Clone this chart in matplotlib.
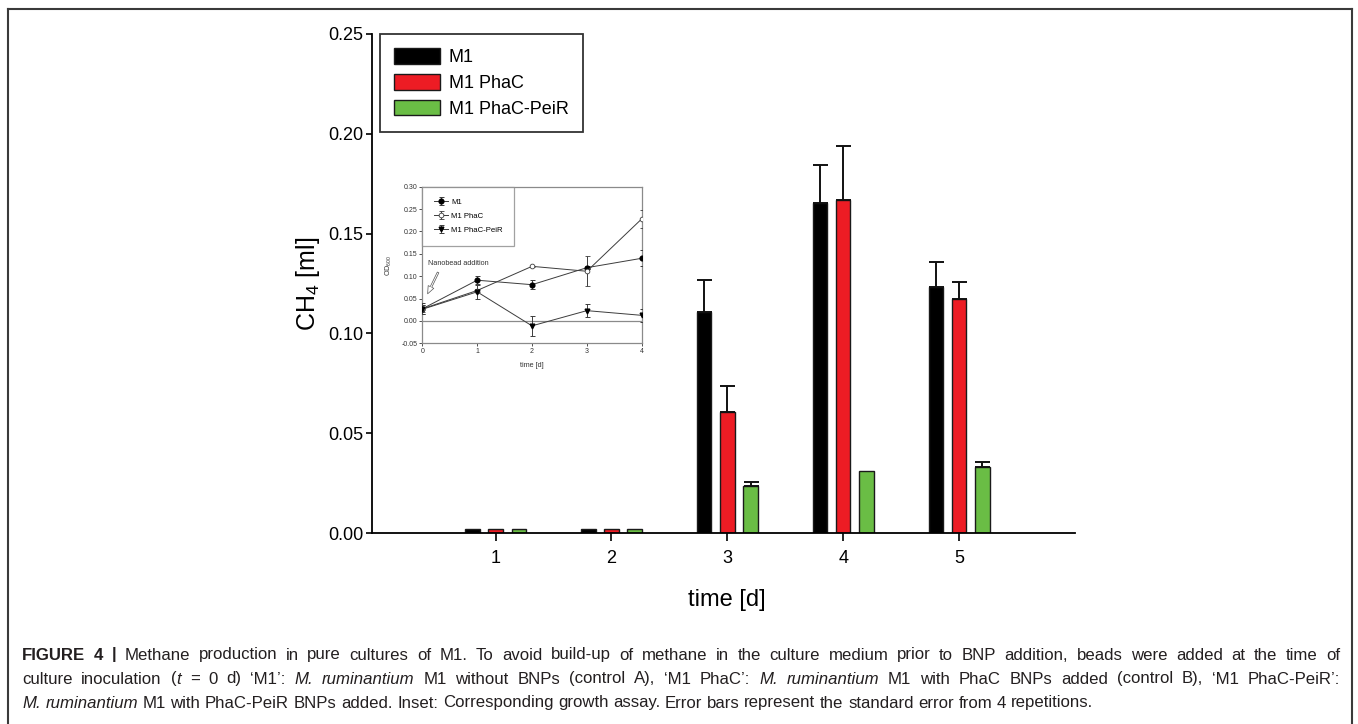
"""
Methane production bar chart with growth-assay inset (Figure 4 recreation)
"""

import numpy as np
import matplotlib
matplotlib.use("Agg")
import matplotlib.pyplot as plt
from matplotlib import font_manager
from matplotlib.lines import Line2D

# ---- main chart data (CH4 in ml) ----
days = [1, 2, 3, 4, 5]
series = ["M1", "M1 PhaC", "M1 PhaC-PeiR"]
ch4_m1 = [0.0022, 0.0022, 0.1107, 0.1655, 0.1230]
ch4_m1_err = [0.0, 0.0, 0.0163, 0.0190, 0.0130]
ch4_phac = [0.0022, 0.0022, 0.0607, 0.1670, 0.1170]
ch4_phac_err = [0.0, 0.0, 0.0129, 0.0270, 0.0088]
ch4_peir = [0.0022, 0.0022, 0.0233, 0.0310, 0.0333]
ch4_peir_err = [0.0, 0.0, 0.0025, 0.0, 0.0025]
y_ticks = [0.00, 0.05, 0.10, 0.15, 0.20, 0.25]

# ---- inset data (OD600) ----
inset_days = [0, 1, 2, 3, 4]
od_m1 = [0.027, 0.091, 0.081, 0.119, 0.140]
od_m1_err = [0.012, 0.009, 0.010, 0.004, 0.018]
od_phac = [0.027, 0.068, 0.122, 0.111, 0.228]
od_phac_err = [0.008, 0.004, 0.001, 0.033, 0.021]
od_peir = [0.026, 0.065, -0.011, 0.023, 0.0125]
od_peir_err = [0.010, 0.016, 0.022, 0.015, 0.014]
inset_y_ticks = [-0.05, 0.00, 0.05, 0.10, 0.15, 0.20, 0.25, 0.30]

caption_lines = [
    "^FIGURE 4 |^ Methane production in pure cultures of M1. To avoid build-up of methane in the "
    "culture medium prior to BNP addition, beads were added at the time of",
    "culture inoculation (_t_ = 0 d) \u2018M1\u2019: _M. ruminantium_ M1 without BNPs (control A), "
    "\u2018M1 PhaC\u2019: _M. ruminantium_ M1 with PhaC BNPs added (control B), \u2018M1 PhaC-PeiR\u2019:",
    "_M. ruminantium_ M1 with PhaC-PeiR BNPs added. Inset: Corresponding growth assay. "
    "Error bars represent the standard error from 4 repetitions.",
]

W, H = 1358, 724
BAR_COLORS = ["#000000", "#ED1C24", "#6ABD45"]
FONT = "Liberation Sans"
installed = {f.name for f in font_manager.fontManager.ttflist}
CAPTION_FONT = "Liberation Sans Narrow" if "Liberation Sans Narrow" in installed else FONT

plt.rcParams["font.family"] = [FONT, "DejaVu Sans"]
plt.rcParams["mathtext.fontset"] = "custom"
plt.rcParams["mathtext.rm"] = FONT
plt.rcParams["mathtext.it"] = FONT + ":italic"


def px_box(left, top, right, bottom):
    # pixel box (from top-left) -> figure fraction rect
    return [left / W, 1 - bottom / H, (right - left) / W, (bottom - top) / H]


def parse_words(line):
    words = []
    italic = False
    bold = False
    for raw in line.split(" "):
        parts = []
        buf = ""
        for ch in raw:
            if ch in "_^":
                if buf:
                    parts.append((buf, italic, bold))
                    buf = ""
                if ch == "_":
                    italic = not italic
                else:
                    bold = not bold
            else:
                buf += ch
        if buf:
            parts.append((buf, italic, bold))
        if parts:
            words.append(parts)
    return words


def draw_caption(fig, lines, x0, x1, ys, size):
    renderer = fig.canvas.get_renderer()

    def make(text, italic, bold, x, y):
        return fig.text(x / W, 1 - y / H, text, fontsize=size, family=[CAPTION_FONT, "DejaVu Sans"],
                        style="italic" if italic else "normal",
                        weight="bold" if bold else "normal",
                        color="#231F20", ha="left", va="center")

    probe_a = make("a a", False, False, 0, 0)
    probe_b = make("aa", False, False, 0, 0)
    space = probe_a.get_window_extent(renderer).width - probe_b.get_window_extent(renderer).width
    probe_a.remove()
    probe_b.remove()

    for i, (line, y) in enumerate(zip(lines, ys)):
        words = parse_words(line)
        texts = []
        widths = []
        for parts in words:
            wt = []
            ww = 0
            for text, italic, bold in parts:
                t = make(text, italic, bold, 0, y)
                w = t.get_window_extent(renderer).width
                wt.append((t, w))
                ww += w
            texts.append(wt)
            widths.append(ww)
        if i < len(lines) - 1:
            gap = (x1 - x0 - sum(widths)) / (len(words) - 1)
        else:
            gap = space
        x = x0
        for wt, ww in zip(texts, widths):
            xx = x
            for t, w in wt:
                t.set_x(xx / W)
                xx += w
            x += ww + gap


fig = plt.figure(figsize=(W / 100, H / 100), dpi=100)

# outer frame (left, top, right edges)
frame_kw = dict(color="#3a3a3a", linewidth=1.5, transform=fig.transFigure)
fig.add_artist(Line2D([8 / W, 8 / W], [0, 1 - 9 / H], **frame_kw))
fig.add_artist(Line2D([8 / W, 1352 / W], [1 - 9 / H, 1 - 9 / H], **frame_kw))
fig.add_artist(Line2D([1352 / W, 1352 / W], [0, 1 - 9 / H], **frame_kw))

# ---- main axes ----
ax = fig.add_axes(px_box(372, 34, 1075, 533))
x = np.array(days, dtype=float)
offsets = [-0.2, 0.0, 0.2]
values = [ch4_m1, ch4_phac, ch4_peir]
errors = [ch4_m1_err, ch4_phac_err, ch4_peir_err]
for off, vals, errs, color, label in zip(offsets, values, errors, BAR_COLORS, series):
    ax.bar(x + off, vals, width=0.125, color=color, edgecolor="#1a1a1a", linewidth=1.0,
           label=label, zorder=2)
    vals = np.array(vals)
    errs = np.array(errs)
    keep = errs > 0
    ax.errorbar(x[keep] + off, vals[keep], yerr=[np.zeros(keep.sum()), errs[keep]],
                fmt="none", ecolor="#111111", elinewidth=1.4, capsize=5.4, capthick=1.4, zorder=3)

ax.set_xlim(-0.0665, 6.0)
ax.set_ylim(0, 0.25)
ax.set_xticks(days)
ax.set_yticks(y_ticks)
ax.set_yticklabels([f"{v:.2f}" for v in y_ticks])
for side in ["top", "right"]:
    ax.spines[side].set_visible(False)
for side in ["left", "bottom"]:
    ax.spines[side].set_linewidth(1.3)
ax.tick_params(axis="y", direction="out", length=4, width=1.2, pad=2, labelsize=13)
ax.tick_params(axis="x", direction="out", length=6, width=1.2, pad=6.5, labelsize=13)
ax.set_ylabel("CH$_4$ [ml]", fontsize=18)
ax.yaxis.set_label_coords(-0.071, 0.5)
ax.set_xlabel("time [d]", fontsize=17)
ax.xaxis.set_label_coords(0.505, -0.112)

leg = ax.legend(loc="upper left", bbox_to_anchor=(8 / 703, 1.0), borderaxespad=0,
                fontsize=13, frameon=True, fancybox=False, handlelength=2.5,
                handleheight=0.95, handletextpad=0.5, labelspacing=0.42, borderpad=0.8)
leg.get_frame().set_edgecolor("#000000")
leg.get_frame().set_linewidth(1.3)

# ---- inset ----
axi = fig.add_axes(px_box(422.3, 186.7, 641.7, 343.3))
axi.set_xlim(0, 4)
axi.set_ylim(-0.05, 0.30)
gray = "#8a8a8a"
for side in axi.spines.values():
    side.set_color(gray)
    side.set_linewidth(0.9)
axi.axhline(0, color=gray, linewidth=0.9, zorder=1)

line_kw = dict(color="#3c3c3c", linewidth=0.7, elinewidth=0.7, ecolor="#3c3c3c",
               capsize=1.8, capthick=0.7, markersize=3.4, zorder=3)
axi.errorbar(inset_days, od_m1, yerr=od_m1_err, marker="o", mfc="black", mec="black",
             label="M1", **line_kw)
axi.errorbar(inset_days, od_phac, yerr=od_phac_err, marker="o", mfc="white", mec="#3c3c3c",
             mew=0.6, label="M1 PhaC", **line_kw)
axi.errorbar(inset_days, od_peir, yerr=od_peir_err, marker="v", mfc="black", mec="black",
             label="M1 PhaC-PeiR", **line_kw)

axi.set_xticks(inset_days)
axi.set_yticks(inset_y_ticks)
axi.set_yticklabels([f"{v:.2f}" for v in inset_y_ticks])
axi.tick_params(direction="out", length=2, width=0.6, pad=1.5, labelsize=5.0,
                color="#333333", labelcolor="#333333")
axi.set_xlabel("time [d]", fontsize=5.2, labelpad=5, color="#333333")
axi.set_ylabel("OD$_{600}$", fontsize=5.2, labelpad=5, color="#333333")

ileg = axi.legend(loc="upper left", bbox_to_anchor=(0, 1), borderaxespad=0, fontsize=5.6,
                  frameon=True, fancybox=False, handlelength=1.8, handletextpad=0.4,
                  labelspacing=0.85, borderpad=1.5)
ileg.get_frame().set_edgecolor(gray)
ileg.get_frame().set_linewidth(0.9)
for h in ileg.legend_handles:
    if hasattr(h, "set_linewidth"):
        h.set_linewidth(0.7)

axi.annotate("", xy=(0.075, 0.055), xytext=(0.31, 0.114),
             arrowprops=dict(arrowstyle="simple,head_width=0.45,head_length=0.55,tail_width=0.12",
                             fc="white", ec="#555555", lw=0.5))
axi.text(0.11, 0.128, "Nanobead addition", fontsize=5.2, color="#333333", ha="left", va="center")

# ---- caption ----
draw_caption(fig, caption_lines, 22, 1340, [655, 679, 703], 12.1)

fig.savefig("out.png", dpi=100)
